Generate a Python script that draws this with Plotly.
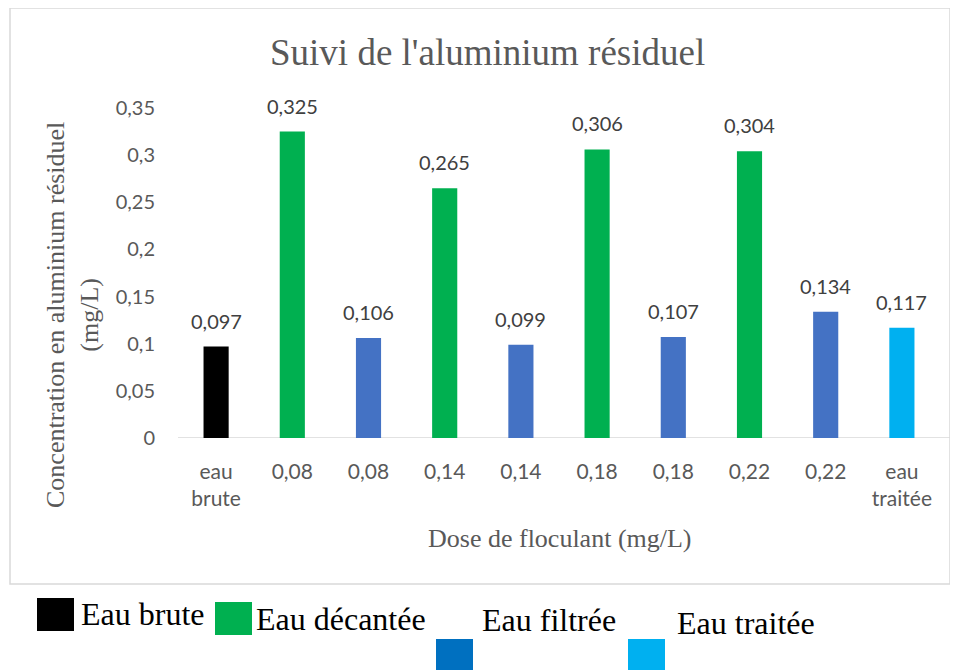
import plotly.graph_objects as go

categories = ["eau<br>brute", "0,08", "0,08", "0,14", "0,14", "0,18", "0,18", "0,22", "0,22", "eau<br>traitée"]
values = [0.097, 0.325, 0.106, 0.265, 0.099, 0.306, 0.107, 0.304, 0.134, 0.117]
groups = ["brute", "decantee", "filtree", "decantee", "filtree", "decantee", "filtree", "decantee", "filtree", "traitee"]
group_colors = {"brute": "#000000", "decantee": "#00B050", "filtree": "#4472C4", "traitee": "#00B0F0"}
legend_labels = ["Eau brute", "Eau décantée", "Eau filtrée", "Eau traitée"]
legend_colors = ["#000000", "#00B050", "#0070C0", "#00B0F0"]

W, H = 958, 670
OFF = 8  # page body margin
def px(x): return (x - OFF) / W
def py(y): return 1 - (y - OFF) / H

SANS = "Lato, Open Sans, sans-serif"
SERIF = "Liberation Serif, Times New Roman, serif"

xs = list(range(len(categories)))
labels = [f"{v:g}".replace(".", ",") for v in values]

fig = go.Figure()
fig.add_trace(go.Bar(
    x=xs, y=values,
    marker=dict(color=[group_colors[g] for g in groups], line=dict(width=0)),
    width=0.33,
    showlegend=False, hoverinfo="skip",
))

fig.update_layout(
    width=W, height=H, margin=dict(l=0, r=0, t=0, b=0, autoexpand=False),
    paper_bgcolor="white", plot_bgcolor="white",
    separators=", ",
    showlegend=False,
    xaxis=dict(domain=[px(178), px(940)], range=[-0.5, 9.5], tickvals=xs, ticktext=categories,
               automargin=False, ticklabelstandoff=19,
               showline=False, showgrid=False, zeroline=False,
               ticks="", tickfont=dict(family=SANS, size=21, color="#595959")),
    yaxis=dict(domain=[py(438), py(108)], range=[0, 0.35], dtick=0.05, showgrid=False, zeroline=False,
               automargin=False,
               showline=False, ticks="", ticklabelstandoff=22,
               tickfont=dict(family=SANS, size=20, color="#595959")),
)

shapes = [
    dict(type="rect", xref="paper", yref="paper", x0=px(10), x1=px(950), y0=py(584), y1=py(8),
         line=dict(color="#D9D9D9", width=1.5), fillcolor="rgba(0,0,0,0)", layer="below"),
    dict(type="line", xref="paper", yref="y", x0=px(178), x1=px(952), y0=0, y1=0,
         line=dict(color="#D9D9D9", width=1.5), layer="below"),
]
annotations = [
    dict(text="Suivi de l'aluminium résiduel", x=px(487), y=py(52), xref="paper", yref="paper", showarrow=False,
         yanchor="middle", font=dict(family=SERIF, size=37, color="#595959")),
    dict(text="Dose de floculant (mg/L)", x=px(560), y=py(538), xref="paper", yref="paper", showarrow=False,
         yanchor="middle", font=dict(family=SERIF, size=26, color="#595959")),
    dict(text="Concentration en aluminium résiduel<br>(mg/L)", x=px(72), y=py(315), xref="paper", yref="paper",
         showarrow=False, textangle=-90, xanchor="center", yanchor="middle",
         font=dict(family=SERIF, size=26, color="#595959")),
]

# data labels above bars
for xi, v, lab in zip(xs, values, labels):
    annotations.append(dict(text=lab, x=xi, y=v, xref="x", yref="y", showarrow=False,
                            yanchor="bottom", yshift=12,
                            font=dict(family=SANS, size=20, color="#404040")))

# manual legend
sq = [(37, 598), (215, 602), (436, 639), (628, 639)]
txt = [(79, 614), (254, 619), (480, 620), (675, 623)]
for (sx, sy), (tx, ty), lab, col in zip(sq, txt, legend_labels, legend_colors):
    shapes.append(dict(type="rect", xref="paper", yref="paper", x0=px(sx), x1=px(sx + 37), y0=py(sy + 33), y1=py(sy),
                       fillcolor=col, line=dict(width=0)))
    annotations.append(dict(text=lab, x=px(tx), y=py(ty), xref="paper", yref="paper", xanchor="left",
                            yanchor="middle", showarrow=False,
                            font=dict(family=SERIF, size=32, color="#000000")))

fig.update_layout(shapes=shapes, annotations=annotations)
fig.write_html("out.html")
